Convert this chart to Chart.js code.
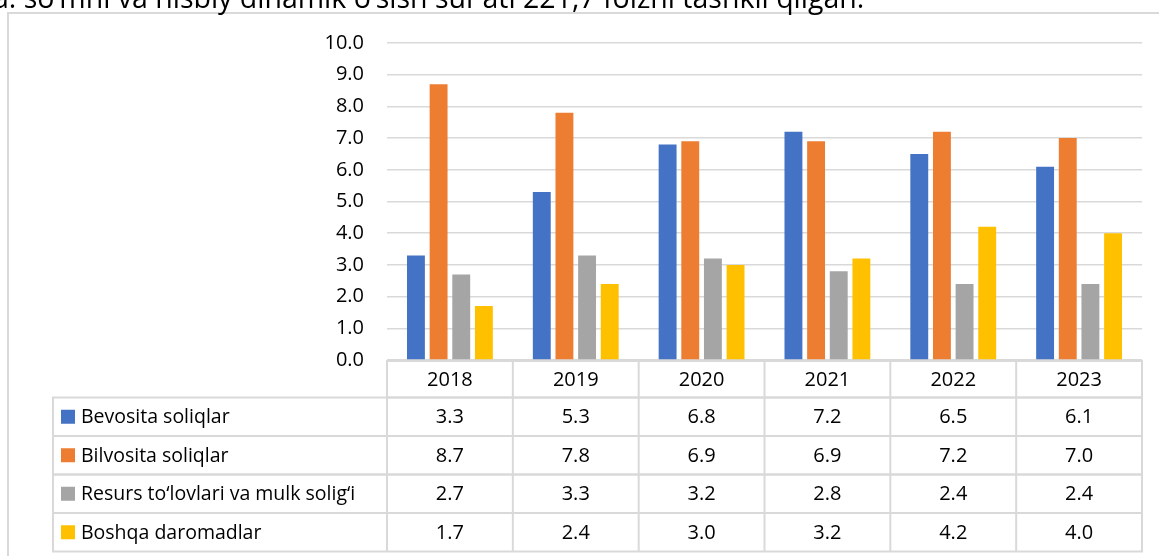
<!DOCTYPE html>
<html>
<head>
<meta charset="utf-8">
<script src="https://cdn.jsdelivr.net/npm/chart.js@4.4.1/dist/chart.umd.min.js"></script>
<style>
  html, body { margin: 0; padding: 0; background: #fff; overflow: hidden; }
  #wrap { position: relative; width: 1159px; height: 556px; }
  #note {
    position: absolute; left: -7px; top: -17px; z-index: 2;
    font: 28.5px/28.5px 'Open Sans', sans-serif; color: #000; white-space: nowrap;
  }
  canvas { position: absolute; left: 0; top: 0; }
</style>
</head>
<body>
<div id="wrap">
  <div id="note">a: so‘mni va nisbiy dinamik o‘sish sur’ati 221,7 foizni tashkil qilgan.</div>
  <canvas id="chart" width="1159" height="556"></canvas>
</div>
<script>
// Years (categories)
const years = ['2018', '2019', '2020', '2021', '2022', '2023'];

// Series
const seriesNames = ['Bevosita soliqlar', 'Bilvosita soliqlar', 'Resurs to‘lovlari va mulk solig‘i', 'Boshqa daromadlar'];
const bevosita  = [3.3, 5.3, 6.8, 7.2, 6.5, 6.1];
const bilvosita = [8.7, 7.8, 6.9, 6.9, 7.2, 7.0];
const resurs    = [2.7, 3.3, 3.2, 2.8, 2.4, 2.4];
const boshqa    = [1.7, 2.4, 3.0, 3.2, 4.2, 4.0];
const seriesColors = ['#4472C4', '#ED7D31', '#A5A5A5', '#FFC000'];

// Value axis
const yMin = 0;
const yMax = 10;
const yStep = 1;

const FONT = "'Open Sans', sans-serif";
const LINE = '#d9d9d9';
const seriesData = [bevosita, bilvosita, resurs, boshqa];

// Draws the outer chart frame and the data table under the plot
const dataTable = {
    id: 'dataTable',
    beforeDraw(chart) {
        const ctx = chart.ctx;
        ctx.save();
        ctx.strokeStyle = LINE;
        ctx.lineWidth = 2;
        ctx.strokeRect(8, 13, 1300, 700);
        ctx.restore();
    },
    afterDraw(chart) {
        const ctx = chart.ctx;
        const area = chart.chartArea;
        const xs = chart.scales.x;
        const colW = area.width / years.length;
        const headTop = area.bottom + 1;
        const headH = 36.5;
        const rowH = 38.5;
        const legLeft = 53;

        ctx.save();
        ctx.strokeStyle = LINE;
        ctx.lineWidth = 2;
        ctx.font = '20px ' + FONT;
        ctx.fillStyle = '#000';
        ctx.textBaseline = 'middle';

        // header row with the years
        ctx.strokeRect(area.left, headTop, area.width, headH);
        years.forEach((y, i) => {
            const cx = xs.getPixelForValue(i);
            ctx.beginPath();
            ctx.moveTo(cx - colW / 2, headTop);
            ctx.lineTo(cx - colW / 2, headTop + headH + rowH * seriesNames.length);
            ctx.stroke();
            ctx.textAlign = 'center';
            ctx.fillText(y, cx, headTop + headH / 2 + 1);
        });

        // one row per series
        seriesNames.forEach((name, r) => {
            const top = headTop + headH + r * rowH;
            ctx.strokeRect(legLeft, top, area.right - legLeft, rowH);
            ctx.fillStyle = seriesColors[r];
            ctx.fillRect(legLeft + 8, top + rowH / 2 - 7, 14, 14);
            ctx.fillStyle = '#000';
            ctx.textAlign = 'left';
            ctx.font = '19.5px ' + FONT;
            ctx.fillText(name, legLeft + 28, top + rowH / 2 + 1);
            ctx.font = '20px ' + FONT;
            ctx.textAlign = 'center';
            seriesData[r].forEach((v, i) => {
                ctx.fillText(v.toFixed(1), xs.getPixelForValue(i), top + rowH / 2 + 1);
            });
        });
        ctx.restore();
    }
};

new Chart(document.getElementById('chart'), {
    type: 'bar',
    data: {
        labels: years,
        datasets: seriesNames.map((name, i) => ({
            label: name,
            data: seriesData[i],
            backgroundColor: seriesColors[i],
            borderWidth: 0,
            categoryPercentage: 0.72,
            barPercentage: 0.79
        }))
    },
    options: {
        responsive: false,
        animation: false,
        events: [],
        layout: { padding: { left: 0, right: 17, top: 43, bottom: 196 } },
        plugins: { legend: { display: false }, tooltip: { enabled: false } },
        scales: {
            x: { display: false },
            y: {
                min: yMin,
                max: yMax,
                border: { display: false },
                grid: { color: LINE, lineWidth: 1.5, drawTicks: false },
                afterFit(scale) { scale.width = 387; },
                ticks: {
                    stepSize: yStep,
                    padding: 23,
                    color: '#000',
                    font: { family: FONT, size: 20 },
                    callback: v => v.toFixed(1)
                }
            }
        }
    },
    plugins: [dataTable]
});
</script>
</body>
</html>
